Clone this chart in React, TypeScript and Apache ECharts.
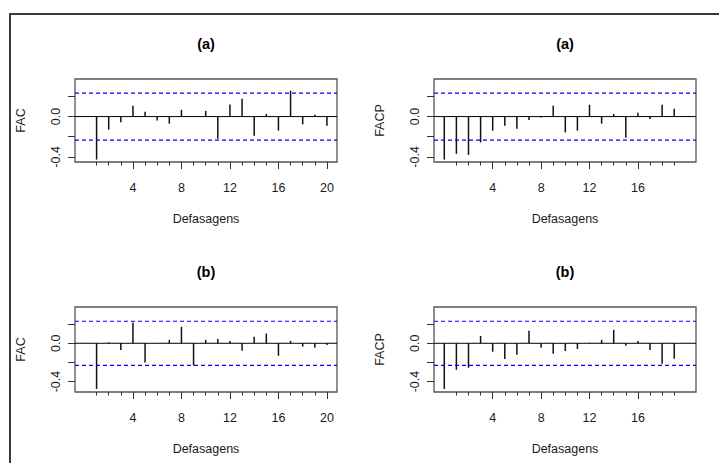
import React, { useEffect, useRef } from 'react';
import * as echarts from 'echarts';

// Lags
const acfLags = [1, 2, 3, 4, 5, 6, 7, 8, 9, 10, 11, 12, 13, 14, 15, 16, 17, 18, 19, 20];
const pacfLags = [0, 1, 2, 3, 4, 5, 6, 7, 8, 9, 10, 11, 12, 13, 14, 15, 16, 17, 18, 19];

// Series (a)
const acfA = [-0.427, -0.13, -0.057, 0.107, 0.047, -0.04, -0.07, 0.067, 0.004, 0.057, -0.22, 0.12, 0.177, -0.19, 0.027, -0.14, 0.257, -0.077, 0.017, -0.09];
const pacfA = [-0.427, -0.37, -0.38, -0.257, -0.14, -0.09, -0.12, -0.033, -0.01, 0.107, -0.157, -0.14, 0.117, -0.07, 0.027, -0.21, 0.037, -0.023, 0.117, 0.077];
// Series (b)
const acfB = [-0.477, 0.01, -0.07, 0.218, -0.2, -0.003, 0.035, 0.172, -0.232, 0.035, 0.046, 0.025, -0.077, 0.067, 0.102, -0.13, 0.025, -0.035, -0.046, -0.018];
const pacfB = [-0.477, -0.277, -0.256, 0.077, -0.088, -0.165, -0.119, 0.13, -0.046, -0.109, -0.081, -0.06, 0.005, 0.035, 0.14, -0.025, 0.025, -0.07, -0.214, -0.161];

// Confidence limits
const climA = 0.233;
const climB = 0.23;

// Ticks and labels
const acfTickLabels = [4, 8, 12, 16, 20];
const acfMinorTicks = [1, 2, 3, 5, 6, 7, 9, 10, 11, 13, 14, 15, 17, 18, 19];
const pacfTickLabels = [4, 8, 12, 16];
const pacfMinorTicks = [1, 2, 3, 5, 6, 7, 9, 10, 11, 13, 14, 15, 17, 18, 19];
const yTicks = [-0.4, -0.2, 0, 0.2];
const yTickLabels = [-0.4, 0];

// Axis ranges
const acfXRange = [-0.78, 20.83];
const pacfXRange = [-0.85, 20.8];
const rowAYRange = [-0.451, 0.373];
const rowBYRange = [-0.509, 0.379];

const FONT = '"Liberation Sans", Arial, sans-serif';
const TXT = '#1a1a1a';

export default function App() {
  const ref = useRef<HTMLDivElement>(null);
  useEffect(() => {
    document.body.style.margin = '0';
    const chart = echarts.init(ref.current!, null, { renderer: 'svg' });

    const panels = [
      { grid: { left: 75, top: 79, width: 262, height: 83 }, lags: acfLags, vals: acfA, ylab: 'FAC', title: '(a)', xr: acfXRange, yr: rowAYRange, labels: acfTickLabels, minor: acfMinorTicks, clim: climA },
      { grid: { left: 434, top: 79, width: 262, height: 83 }, lags: pacfLags, vals: pacfA, ylab: 'FACP', title: '(a)', xr: pacfXRange, yr: rowAYRange, labels: pacfTickLabels, minor: pacfMinorTicks, clim: climA },
      { grid: { left: 75, top: 307, width: 262, height: 85 }, lags: acfLags, vals: acfB, ylab: 'FAC', title: '(b)', xr: acfXRange, yr: rowBYRange, labels: acfTickLabels, minor: acfMinorTicks, clim: climB },
      { grid: { left: 434, top: 307, width: 262, height: 85 }, lags: pacfLags, vals: pacfB, ylab: 'FACP', title: '(b)', xr: pacfXRange, yr: rowBYRange, labels: pacfTickLabels, minor: pacfMinorTicks, clim: climB },
    ];

    const grids: any[] = [];
    const xAxes: any[] = [];
    const yAxes: any[] = [];
    const series: any[] = [];
    const graphics: any[] = [];

    graphics.push({
      type: 'rect',
      z: -10,
      shape: { x: 10, y: 14, width: 800, height: 600 },
      style: { fill: 'none', stroke: '#3a3a3a', lineWidth: 2 },
    });

    panels.forEach((p, i) => {
      grids.push({ ...p.grid, show: true, borderColor: '#555', borderWidth: 1.3, backgroundColor: 'transparent' });
      xAxes.push({
        type: 'value', gridIndex: i, min: p.xr[0], max: p.xr[1], position: 'bottom',
        axisLine: { show: false, onZero: false },
        splitLine: { show: false },
        axisTick: { show: true, customValues: p.labels, length: 7, lineStyle: { color: '#333', width: 1 } },
        axisLabel: { show: true, customValues: p.labels, margin: 19, fontSize: 12.5, color: TXT, fontFamily: FONT },
        name: 'Defasagens', nameLocation: 'middle', nameGap: 50,
        nameTextStyle: { fontSize: 12.5, color: TXT, fontFamily: FONT },
      });
      xAxes.push({
        type: 'value', gridIndex: i, min: p.xr[0], max: p.xr[1], position: 'bottom',
        axisLine: { show: false, onZero: false },
        splitLine: { show: false },
        axisTick: { show: true, customValues: p.minor, length: 3.5, lineStyle: { color: '#333', width: 1 } },
        axisLabel: { show: false },
      });
      yAxes.push({
        type: 'value', gridIndex: i, min: p.yr[0], max: p.yr[1],
        axisLine: { show: false, onZero: false },
        splitLine: { show: false },
        axisTick: { show: true, customValues: yTicks, length: 7, lineStyle: { color: '#333', width: 1 } },
        axisLabel: {
          show: true, customValues: yTickLabels, rotate: 90, margin: 13, fontSize: 12.5, color: TXT, fontFamily: FONT,
          formatter: (v: number) => v.toFixed(1),
        },
        name: p.ylab, nameLocation: 'middle', nameRotate: 90, nameGap: 48,
        nameTextStyle: { fontSize: 12.5, color: TXT, fontFamily: FONT },
      });
      const xi = i * 2;
      series.push({
        type: 'line', xAxisIndex: xi, yAxisIndex: i, symbol: 'none', silent: true,
        data: [[p.xr[0], 0], [p.xr[1], 0]],
        lineStyle: { color: '#000', width: 1 },
      });
      series.push({
        type: 'line', xAxisIndex: xi, yAxisIndex: i, symbol: 'none', silent: true,
        data: [[p.xr[0], p.clim], [p.xr[1], p.clim]],
        lineStyle: { color: '#0000ff', width: 1.2, type: [4, 3] },
      });
      series.push({
        type: 'line', xAxisIndex: xi, yAxisIndex: i, symbol: 'none', silent: true,
        data: [[p.xr[0], -p.clim], [p.xr[1], -p.clim]],
        lineStyle: { color: '#0000ff', width: 1.2, type: [4, 3] },
      });
      series.push({
        type: 'custom', xAxisIndex: xi, yAxisIndex: i, silent: true,
        data: p.lags.map((l, k) => [l, p.vals[k]]),
        renderItem: (_params: any, api: any) => {
          const a = api.coord([api.value(0), 0]);
          const b = api.coord([api.value(0), api.value(1)]);
          return {
            type: 'line',
            shape: { x1: a[0], y1: a[1], x2: b[0], y2: b[1] },
            style: { stroke: '#111', lineWidth: 1.5 },
          };
        },
      });
      graphics.push({
        type: 'text',
        x: p.grid.left + p.grid.width / 2,
        y: p.grid.top - 35,
        style: {
          text: p.title, align: 'center', verticalAlign: 'middle',
          fontSize: 14.5, fontWeight: 'bold', fontFamily: FONT, fill: '#000',
        },
      });
    });

    chart.setOption({
      animation: false,
      backgroundColor: '#fff',
      grid: grids,
      xAxis: xAxes,
      yAxis: yAxes,
      series,
      graphic: graphics,
    });
    return () => chart.dispose();
  }, []);
  return <div ref={ref} style={{ position: 'absolute', left: 0, top: 0, width: 719, height: 463 }} />;
}
